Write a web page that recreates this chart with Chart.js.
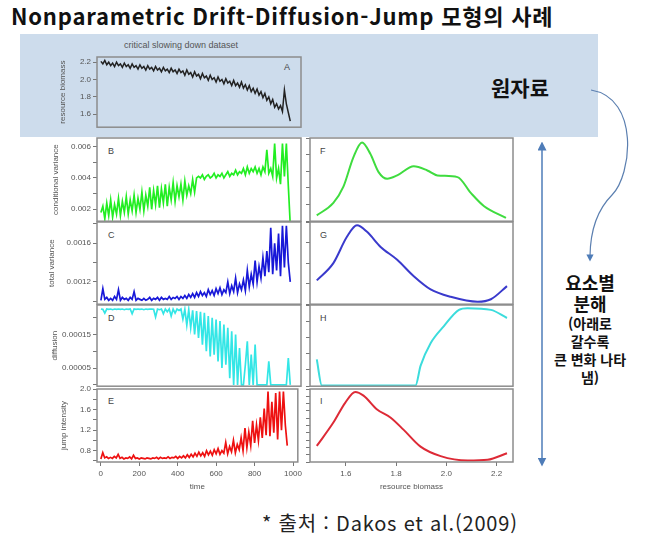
<!DOCTYPE html>
<html lang="ko">
<head>
<meta charset="UTF-8">
<title>Nonparametric Drift-Diffusion-Jump 모형의 사례</title>
<script src="https://cdn.jsdelivr.net/npm/chart.js"></script>
<style>
  body { margin: 0; background: #fff; font-family: "Noto Sans CJK KR", "Noto Sans", sans-serif; }
  #page { position: relative; width: 650px; height: 541px; overflow: hidden; }
  canvas { position: absolute; }
  .txt { position: absolute; white-space: nowrap; }
  .letter { position: absolute; font: 9px "Liberation Sans", sans-serif; color: #444; }
</style>
</head>
<body>
<div id="page">
  <div class="txt" style="left:11px; top:-1px; font-size:22px; letter-spacing:0.8px; font-weight:bold; color:#111;">Nonparametric Drift-Diffusion-Jump 모형의 사례</div>
  <div style="position:absolute; left:20px; top:34px; width:578px; height:103px; background:#cddcec;"></div>
  <div class="txt" style="left:124px; top:40px; font:9px 'Liberation Sans Narrow','Liberation Sans',sans-serif; color:#555;">critical slowing down dataset</div>
  <div class="txt" style="left:491px; top:72px; font-size:21px; font-weight:bold; color:#111;">원자료</div>
  <div class="txt" style="left:535px; top:272px; width:110px; text-align:center; font-weight:bold; color:#111;">
    <div style="font-size:18px; line-height:21px;">요소별</div>
    <div style="font-size:18px; line-height:21px;">분해</div>
    <div style="font-size:14px; line-height:18px;">(아래로</div>
    <div style="font-size:14px; line-height:18px;">갈수록</div>
    <div style="font-size:14px; line-height:18px;">큰 변화 나타</div>
    <div style="font-size:14px; line-height:18px;">냄)</div>
  </div>
  <div class="txt" style="left:262px; top:508px; font-size:20px; letter-spacing:0.8px; color:#222;">* 출처 : Dakos et al.(2009)</div>

  <div class="letter" style="left:284px; top:62px;">A</div>
  <div class="letter" style="left:108px; top:146px;">B</div>
  <div class="letter" style="left:108px; top:230px;">C</div>
  <div class="letter" style="left:108px; top:313px;">D</div>
  <div class="letter" style="left:108px; top:396px;">E</div>
  <div class="letter" style="left:320px; top:146px;">F</div>
  <div class="letter" style="left:320px; top:230px;">G</div>
  <div class="letter" style="left:320px; top:313px;">H</div>
  <div class="letter" style="left:320px; top:396px;">I</div>

  <svg style="position:absolute; left:0; top:0;" width="650" height="541">
    <defs>
      <marker id="ah" viewBox="0 0 10 10" refX="5" refY="5" markerWidth="6" markerHeight="6" orient="auto-start-reverse">
        <path d="M0,0 L10,5 L0,10 z" fill="#4e7cb8"/>
      </marker>
    </defs>
    <line x1="542" y1="146" x2="542" y2="462" stroke="#4e7cb8" stroke-width="1.5" marker-start="url(#ah)" marker-end="url(#ah)"/>
    <path d="M591,90 C640,98 632,175 612,195 C595,212 590,235 590,258" fill="none" stroke="#5b7fb0" stroke-width="1.2" marker-end="url(#ah)"/>
  </svg>
</div>

<script>
// time axis shared by the left-hand panels
const time = [0,10,20,30,40,50,60,70,80,90,
  100,110,120,130,140,150,160,170,180,190,
  200,210,220,230,240,250,260,270,280,290,
  300,310,320,330,340,350,360,370,380,390,
  400,410,420,430,440,450,460,470,480,490,
  500,510,520,530,540,550,560,570,580,590,
  600,610,620,630,640,650,660,670,680,690,
  700,710,720,730,740,750,760,770,780,790,
  800,810,820,830,840,850,860,870,880,890,
  900,910,920,930,940,950,960,970];

// A: resource biomass
const biomass = [2.21,2.18,2.22,2.17,2.20,2.16,2.19,2.15,2.20,2.16,
  2.18,2.14,2.19,2.15,2.17,2.13,2.18,2.14,2.16,2.12,
  2.17,2.13,2.15,2.11,2.16,2.12,2.14,2.10,2.15,2.11,
  2.13,2.09,2.14,2.10,2.12,2.08,2.13,2.09,2.11,2.07,
  2.12,2.08,2.10,2.05,2.11,2.06,2.08,2.03,2.09,2.04,
  2.06,2.01,2.07,2.02,2.04,1.99,2.05,2.00,2.02,1.97,
  2.03,1.98,2.00,1.95,2.01,1.96,1.98,1.93,1.99,1.93,
  1.96,1.91,1.97,1.90,1.94,1.88,1.93,1.86,1.90,1.84,
  1.89,1.82,1.86,1.79,1.84,1.76,1.80,1.72,1.77,1.68,
  1.72,1.66,1.70,1.63,1.88,1.72,1.62,1.52];

// B: conditional variance
const condVar = [0.0018,0.0022,0.0014,0.0024,0.0016,0.0026,0.0015,0.0023,0.0017,0.0027,
  0.0016,0.0025,0.0018,0.0028,0.0017,0.0026,0.0019,0.0029,0.0018,0.0027,
  0.0020,0.0031,0.0019,0.0029,0.0022,0.0034,0.0020,0.0032,0.0023,0.0035,
  0.0021,0.0033,0.0024,0.0036,0.0022,0.0034,0.0026,0.0037,0.0025,0.0035,
  0.0028,0.0036,0.0026,0.0038,0.0029,0.0035,0.0030,0.0039,0.0031,0.0040,
  0.0041,0.0040,0.0042,0.0039,0.0041,0.0042,0.0040,0.0041,0.0043,0.0040,
  0.0042,0.0041,0.0043,0.0040,0.0042,0.0044,0.0041,0.0043,0.0042,0.0045,
  0.0042,0.0044,0.0043,0.0046,0.0042,0.0047,0.0043,0.0046,0.0044,0.0047,
  0.0043,0.0046,0.0042,0.0047,0.0044,0.0058,0.0043,0.0046,0.0041,0.0062,
  0.0040,0.0046,0.0036,0.0062,0.0041,0.0062,0.0035,0.0010];

// C: total variance
const totalVar = [0.00101,0.00113,0.00102,0.00104,0.00101,0.00103,0.00101,0.00105,0.00102,0.00112,
  0.00101,0.00104,0.00102,0.00103,0.00101,0.00104,0.00102,0.00110,0.00101,0.00103,
  0.00102,0.00101,0.00103,0.00101,0.00102,0.00104,0.00101,0.00103,0.00102,0.00104,
  0.00101,0.00104,0.00102,0.00103,0.00102,0.00105,0.00102,0.00104,0.00103,0.00105,
  0.00102,0.00105,0.00103,0.00106,0.00103,0.00107,0.00104,0.00108,0.00104,0.00109,
  0.00105,0.00110,0.00106,0.00109,0.00105,0.00112,0.00107,0.00111,0.00106,0.00113,
  0.00108,0.00114,0.00107,0.00112,0.00109,0.00120,0.00108,0.00116,0.00110,0.00124,
  0.00109,0.00118,0.00112,0.00122,0.00111,0.00132,0.00115,0.00128,0.00118,0.00142,
  0.00120,0.00136,0.00124,0.00145,0.00126,0.00152,0.00130,0.00176,0.00128,0.00160,
  0.00132,0.00170,0.00126,0.00178,0.00135,0.00178,0.00140,0.00120];

// D: diffusion
const diffusion = [0.000226,0.000225,0.000214,0.000226,0.000225,0.000226,0.000224,0.000226,0.000225,0.000226,
  0.000225,0.000226,0.000224,0.000226,0.000225,0.000226,0.000212,0.000226,0.000225,0.000226,
  0.000225,0.000226,0.000224,0.000226,0.000225,0.000226,0.000226,0.000225,0.000202,0.000226,
  0.000224,0.000226,0.000212,0.000226,0.000218,0.000226,0.000205,0.000226,0.000214,0.000226,
  0.000222,0.000226,0.000196,0.000225,0.000178,0.000224,0.000170,0.000222,0.000150,0.000220,
  0.000140,0.000218,0.000120,0.000215,0.000100,0.000205,0.000085,0.000200,0.000090,0.000195,
  0.000070,0.000190,0.000050,0.000180,0.000060,0.000170,0.000020,0.000160,0.000000,0.000150,
  0.000000,0.000110,0.000000,0.000000,0.000060,0.000130,0.000000,0.000090,0.000000,0.000120,
  0.000000,0.000000,0.000000,0.000000,0.000000,0.000000,0.000070,0.000000,0.000000,0.000000,
  0.000000,0.000000,0.000000,0.000000,0.000000,0.000000,0.000080,0.000000];

// E: jump intensity
const jumpInt = [0.64,0.76,0.66,0.68,0.65,0.67,0.65,0.69,0.66,0.73,
  0.65,0.67,0.64,0.66,0.65,0.68,0.64,0.71,0.65,0.66,
  0.64,0.66,0.65,0.64,0.66,0.65,0.64,0.66,0.65,0.67,
  0.64,0.67,0.65,0.66,0.65,0.68,0.65,0.67,0.66,0.69,
  0.65,0.69,0.66,0.70,0.66,0.72,0.67,0.73,0.68,0.75,
  0.69,0.77,0.70,0.76,0.69,0.80,0.72,0.79,0.71,0.82,
  0.74,0.84,0.73,0.80,0.75,0.96,0.74,0.88,0.78,1.00,
  0.76,0.92,0.82,1.05,0.80,1.24,0.86,1.16,0.90,1.38,
  0.95,1.30,1.00,1.45,1.05,1.62,1.10,1.95,1.08,1.75,
  1.15,1.92,1.02,1.95,1.20,1.95,1.30,0.90];

// F-I: curves against resource biomass (relative height)
const fX = [1.484,1.550,1.590,1.630,1.664,1.697,1.730,1.764,1.804,1.870,1.924,1.964,2.044,2.097,2.150,2.237];
const fY = [0.07,0.22,0.415,0.77,0.945,0.81,0.59,0.51,0.55,0.66,0.61,0.55,0.53,0.34,0.18,0.04];
const gX = [1.484,1.550,1.604,1.644,1.684,1.737,1.804,1.870,1.937,2.017,2.124,2.177,2.241];
const gY = [0.29,0.50,0.82,0.96,0.88,0.70,0.54,0.34,0.18,0.09,0.03,0.06,0.22];
const hX = [1.484,1.504,1.600,1.700,1.800,1.877,1.897,1.937,1.990,2.050,2.084,2.177,2.241];
const hY = [0.33,0.01,0.01,0.01,0.01,0.01,0.25,0.53,0.74,0.94,0.96,0.94,0.84];
const iX = [1.484,1.550,1.597,1.637,1.670,1.724,1.777,1.830,1.897,1.977,2.084,2.164,2.241];
const iY = [0.22,0.54,0.81,0.96,0.91,0.72,0.61,0.44,0.21,0.08,0.02,0.03,0.12];

const page = document.getElementById('page');
const tickFont = { size: 8, family: "'Liberation Sans Narrow', 'Liberation Sans', sans-serif" };

// draws the box round each plot
const frame = {
  id: 'frame',
  afterDraw(chart) {
    const a = chart.chartArea, ctx = chart.ctx;
    ctx.save();
    ctx.strokeStyle = '#8c8c8c';
    ctx.lineWidth = 1.5;
    ctx.strokeRect(a.left, a.top, a.right - a.left, a.bottom - a.top);
    ctx.restore();
  }
};

function makePanel(o) {
  const padT = 8, padR = 4, padB = 6;
  const left = o.box.l - o.axisW;
  const top = o.box.t - padT;
  const w = o.box.r - left + padR;
  const h = o.box.b - top + (o.xAxisH || padB);
  const cv = document.createElement('canvas');
  cv.width = w; cv.height = h;
  cv.style.left = left + 'px'; cv.style.top = top + 'px';
  cv.style.width = w + 'px'; cv.style.height = h + 'px';
  page.appendChild(cv);

  new Chart(cv, {
    type: 'line',
    data: {
      datasets: [{
        data: o.xs.map((x, i) => ({ x: x, y: o.ys[i] })),
        borderColor: o.color,
        borderWidth: o.lw,
        pointRadius: 0,
        tension: o.smooth ? 0.4 : 0,
        cubicInterpolationMode: o.smooth ? 'monotone' : 'default',
        fill: false
      }]
    },
    options: {
      responsive: false,
      animation: false,
      events: [],
      layout: { padding: { top: padT, right: padR, bottom: o.xAxisH ? 0 : padB, left: 0 } },
      plugins: { legend: { display: false }, tooltip: { enabled: false } },
      scales: {
        x: {
          type: 'linear',
          min: o.xMin, max: o.xMax,
          display: !!o.xAxisH,
          afterFit: s => { s.height = o.xAxisH || 0; },
          grid: { drawOnChartArea: false, tickLength: 4, color: '#777' },
          border: { display: false },
          ticks: { stepSize: o.xStep, includeBounds: false, font: tickFont, color: '#555', padding: 3,
                   maxRotation: 0, autoSkip: false, callback: o.xFmt },
          title: { display: !!o.xTitle, text: o.xTitle, font: tickFont, color: '#555', padding: 0 }
        },
        y: {
          type: 'linear',
          min: o.yMin, max: o.yMax,
          afterFit: s => { s.width = o.axisW; },
          grid: { drawOnChartArea: false, tickLength: 4, color: '#777' },
          border: { display: false },
          ticks: { stepSize: o.yStep, includeBounds: false, font: tickFont, color: '#555', padding: 2,
                   autoSkip: false, callback: o.yFmt },
          title: { display: !!o.yTitle, text: o.yTitle, font: tickFont, color: '#555', padding: 1 }
        }
      }
    },
    plugins: [frame]
  });
}

const L = { l: 97, r: 301 }, R = { l: 310, r: 513 };
const rows = { B: [138, 222], C: [222, 305], D: [305, 387], E: [389, 462] };
const none = () => '';

makePanel({ box: { l: L.l, r: L.r, t: 57, b: 128 }, axisW: 40, xs: time, ys: biomass, color: '#222', lw: 1.5,
  xMin: -20, xMax: 1025, yMin: 1.45, yMax: 2.26, yStep: 0.2, yFmt: v => v.toFixed(1), yTitle: 'resource biomass' });

makePanel({ box: { l: L.l, r: L.r, t: rows.B[0], b: rows.B[1] }, axisW: 47, xs: time, ys: condVar, color: '#22ee22', lw: 1.7,
  xMin: -20, xMax: 1025, yMin: 0.00124, yMax: 0.00655, yStep: 0.001,
  yFmt: v => Math.round(v * 1000) % 2 === 0 ? v.toFixed(3) : '', yTitle: 'conditional variance' });

makePanel({ box: { l: L.l, r: L.r, t: rows.C[0], b: rows.C[1] }, axisW: 51, xs: time, ys: totalVar, color: '#1818d8', lw: 1.7,
  xMin: -20, xMax: 1025, yMin: 0.00097, yMax: 0.00182, yStep: 0.0002,
  yFmt: v => Math.round(v * 10000) % 4 === 0 ? v.toFixed(4) : '', yTitle: 'total variance' });

makePanel({ box: { l: L.l, r: L.r, t: rows.D[0], b: rows.D[1] }, axisW: 48, xs: time, ys: diffusion, color: '#33e6e6', lw: 1.7,
  xMin: -20, xMax: 1025, yMin: -0.000004, yMax: 0.000238, yStep: 0.00005,
  yFmt: v => Math.round(v * 100000 / 5) % 2 === 1 ? v.toFixed(5) : '', yTitle: 'diffusion' });

makePanel({ box: { l: L.l, r: L.r, t: rows.E[0], b: rows.E[1] }, axisW: 39, xAxisH: 30, xs: time, ys: jumpInt, color: '#ee1111', lw: 1.7,
  xMin: -20, xMax: 1025, xStep: 200, xFmt: v => String(v), xTitle: 'time',
  yMin: 0.58, yMax: 2.0, yStep: 0.2,
  yFmt: v => Math.round(v * 10) % 4 === 0 ? v.toFixed(1) : '', yTitle: 'jump intensity' });

makePanel({ box: { l: R.l, r: R.r, t: rows.B[0], b: rows.B[1] }, axisW: 8, xs: fX, ys: fY, color: '#3fdc3f', lw: 2, smooth: true,
  xMin: 1.457, xMax: 2.265, yMin: 0, yMax: 1, yStep: 0.2, yFmt: none });

makePanel({ box: { l: R.l, r: R.r, t: rows.C[0], b: rows.C[1] }, axisW: 8, xs: gX, ys: gY, color: '#3a3acc', lw: 2, smooth: true,
  xMin: 1.457, xMax: 2.265, yMin: 0, yMax: 1, yStep: 0.25, yFmt: none });

makePanel({ box: { l: R.l, r: R.r, t: rows.D[0], b: rows.D[1] }, axisW: 8, xs: hX, ys: hY, color: '#3cdcdc', lw: 2, smooth: true,
  xMin: 1.457, xMax: 2.265, yMin: 0, yMax: 1, yStep: 0.2, yFmt: none });

makePanel({ box: { l: R.l, r: R.r, t: rows.E[0], b: rows.E[1] }, axisW: 8, xAxisH: 30, xs: iX, ys: iY, color: '#dd2a36', lw: 2, smooth: true,
  xMin: 1.457, xMax: 2.265, xStep: 0.2, xFmt: v => v.toFixed(1), xTitle: 'resource biomass',
  yMin: 0, yMax: 1, yStep: 0.1, yFmt: none });
</script>
</body>
</html>
